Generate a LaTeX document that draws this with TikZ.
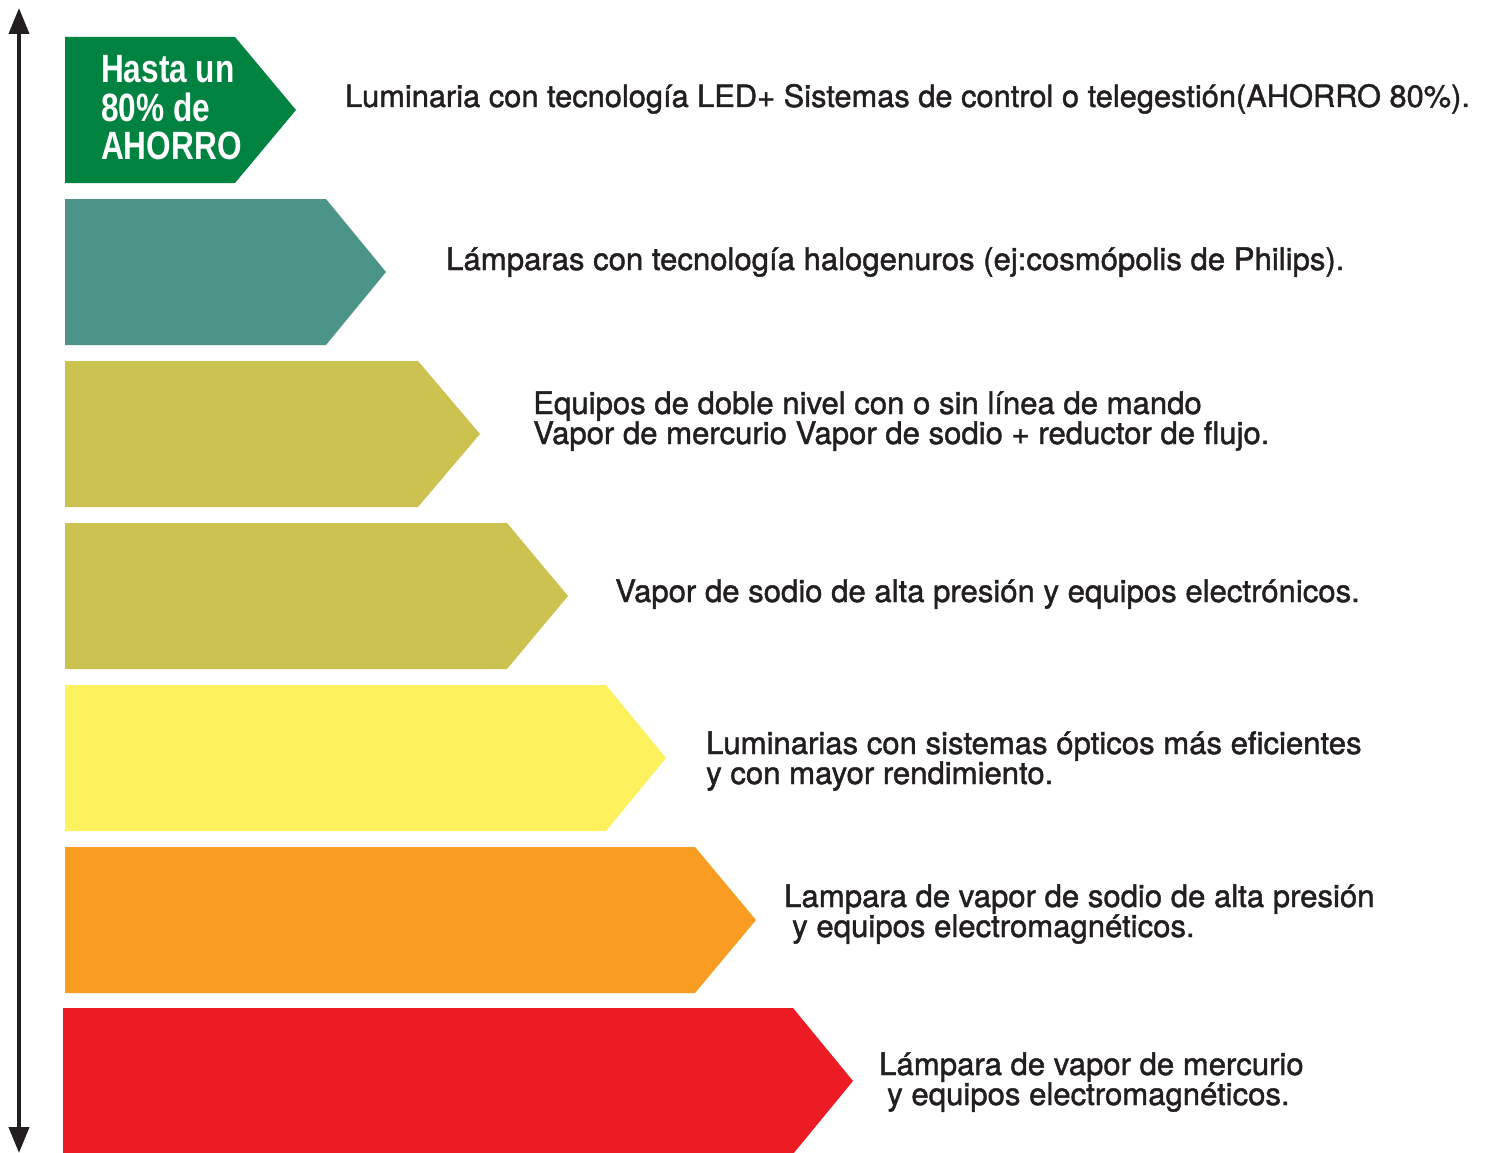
\documentclass[tikz,border=0pt]{standalone}
\usepackage{fontspec}
\setmainfont{TeX Gyre Heros}
\newfontfamily\medfont[FakeBold=1.4]{TeX Gyre Heros}
\newfontfamily\boldfont{Liberation Sans Bold}
\usetikzlibrary{arrows.meta}
\definecolor{cgreen}{RGB}{0,130,64}
\definecolor{cteal}{RGB}{77,148,136}
\definecolor{colive}{RGB}{204,194,79}
\definecolor{cyellow}{RGB}{254,241,94}
\definecolor{corange}{RGB}{248,157,33}
\definecolor{cred}{RGB}{237,28,36}
\definecolor{ctext}{RGB}{35,31,32}
\tikzset{
  lbl/.style={anchor=base west, inner sep=0pt, text=ctext, font=\medfont\fontsize{31.1}{30}\selectfont, align=left},
  axis/.style={line width=4pt, draw=ctext, {Triangle[width=20pt,length=26pt]}-{Triangle[width=20pt,length=26pt]}},
}
\newcommand{\barshape}[6]{% name, color, x0, y0, xflat, xtip
  \fill[#2] (#3,#4) -- (#5,#4) -- (#6,#4+73) -- (#5,#4+146) -- (#3,#4+146) -- cycle;
  \coordinate (#1) at (#3,#4+73);
}
\begin{document}
\begin{tikzpicture}[x=1pt,y=-1pt]
\useasboundingbox (0,0) rectangle (1486,1153);
\fill[white] (0,0) rectangle (1486,1153);
\barshape{b1}{cgreen}{65}{37}{235}{296}
\barshape{b2}{cteal}{65}{199}{326}{386}
\barshape{b3}{colive}{65}{361}{418}{480}
\barshape{b4}{colive}{65}{523}{507}{568}
\barshape{b5}{cyellow}{65}{685}{606}{666}
\barshape{b6}{corange}{65}{847}{695}{756}
\barshape{b7}{cred}{63}{1008}{793}{853}
\coordinate (atop) at (19,8);
\coordinate (abot) at (19,1153);
\draw[axis] (atop) -- (abot);
\node[anchor=base west, inner sep=0pt, text=white, xscale=0.8, align=left,
  font=\boldfont\fontsize{39.5}{38.5}\selectfont] (t0) at (101,160) {Hasta un\\80\% de\\AHORRO};
\node[lbl, font=\medfont\fontsize{30.8}{30}\selectfont] (t1) at (345,107) {Luminaria con tecnología LED+ Sistemas de control o telegestión(AHORRO 80\%).};
\node[lbl] (t2) at (446,270) {Lámparas con tecnología halogenuros (ej:cosmópolis de Philips).};
\node[lbl] (t3) at (533,444) {Equipos de doble nivel con o sin línea de mando\\Vapor de mercurio Vapor de sodio + reductor de flujo.};
\node[lbl] (t4) at (615,602) {Vapor de sodio de alta presión y equipos electrónicos.};
\node[lbl] (t5) at (706,784) {Luminarias con sistemas ópticos más eficientes\\y con mayor rendimiento.};
\node[lbl] (t6) at (784,937) {Lampara de vapor de sodio de alta presión\\\hspace*{8pt}y equipos electromagnéticos.};
\node[lbl] (t7) at (879,1105) {Lámpara de vapor de mercurio\\\hspace*{8pt}y equipos electromagnéticos.};
\end{tikzpicture}
\end{document}
